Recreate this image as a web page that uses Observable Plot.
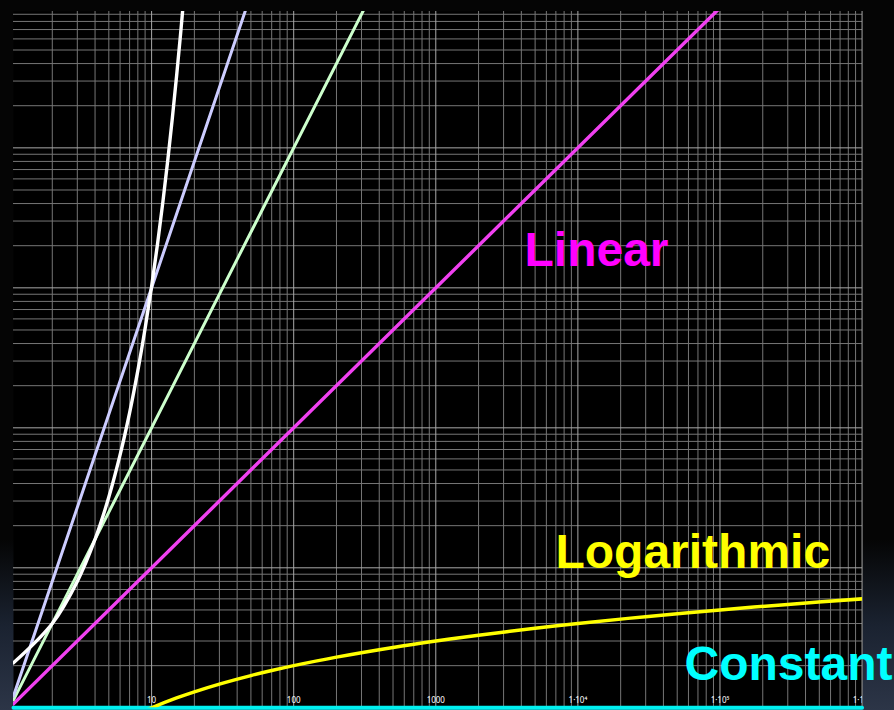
<!DOCTYPE html>
<html>
<head>
<meta charset="utf-8">
<script src="https://cdn.jsdelivr.net/npm/d3@7"></script>
<script src="https://cdn.jsdelivr.net/npm/@observablehq/plot@0.6"></script>
<style>
  html, body { margin: 0; padding: 0; }
  body {
    width: 894px; height: 710px; overflow: hidden;
    background: linear-gradient(to bottom, #050505 0%, #050505 76%, #1a2230 88%, #2c3547 100%);
    font-family: "Liberation Sans", Arial, sans-serif;
  }
  svg { display: block; background: transparent !important; }
</style>
</head>
<body>
<div id="chart"></div>
<script>
// ---- data ----
const constN = [1.067, 1000000];
const constV = [1, 1];

const logN = [9, 10, 15, 20, 30, 50, 70, 100, 200, 500, 1000, 2000, 5000, 10000, 30000, 100000, 300000, 1000000];
const logV = [0.954, 1, 1.176, 1.301, 1.477, 1.699, 1.845, 2, 2.301, 2.699, 3, 3.301, 3.699, 4, 4.477, 5, 5.477, 6];

const linN = [1.067, 100000];
const linV = [1.067, 100000];

const sqN = [1.067, 400];
const sqV = [1.138, 160000];

const cubeN = [1.067, 50];
const cubeV = [1.215, 125000];

const expN = [1.067, 2, 3, 4, 5, 6, 7, 8, 9, 10, 11, 12, 13, 14, 15, 16, 17];
const expV = [2.095, 4, 8, 16, 32, 64, 128, 256, 512, 1024, 2048, 4096, 8192, 16384, 32768, 65536, 131072];

const tickValues = [10, 100, 1000, 10000, 100000, 1000000];
const tickLabels = ["10", "100", "1000", "1·10⁴", "1·10⁵", "1·10⁶"];

const labelNames = ["Linear", "Logarithmic", "Constant"];
const labelN = [4210, 6950, 56300];
const labelV = [1443, 9.9, 1.59];
const labelColors = ["#ff00ff", "#ffff00", "#00ffff"];

// ---- grid positions ----
const decades = [1, 10, 100, 1000, 10000, 100000, 1000000];
const xMinor = [], yMinor = [];
for (const d of decades) for (let k = 2; k <= 9; k++) { xMinor.push(d * k); yMinor.push(d * k); }

const xDomain = [Math.pow(10, 0.0281), Math.pow(10, 6.003)];
const yDomain = [1, Math.pow(10, 4.974)];

const series = [
  {n: constN, v: constV, color: "#00f0f0", w: 4, clip: false},
  {n: logN, v: logV, color: "#ffff00", w: 3.5, clip: true},
  {n: linN, v: linV, color: "#f040f0", w: 3.4, clip: true},
  {n: sqN, v: sqV, color: "#ccffcc", w: 3, clip: true},
  {n: cubeN, v: cubeV, color: "#ccccff", w: 3, clip: true},
  {n: expN, v: expV, color: "#ffffff", w: 3.4, clip: true}
];

const chart = Plot.plot({
  width: 894,
  height: 710,
  marginLeft: 13,
  marginRight: 32,
  marginTop: 11,
  marginBottom: 2.7,
  style: {background: "transparent", overflow: "visible"},
  x: {type: "log", domain: xDomain, axis: null},
  y: {type: "log", domain: yDomain, axis: null},
  marks: [
    Plot.frame({fill: "#000000", stroke: null}),
    Plot.ruleX(xMinor.filter(v => v > xDomain[0] && v < xDomain[1]), {stroke: "#767676", strokeWidth: 1}),
    Plot.ruleY(yMinor.filter(v => v > yDomain[0] && v < yDomain[1]), {stroke: "#767676", strokeWidth: 1}),
    Plot.ruleX(decades.filter(v => v > xDomain[0] && v <= xDomain[1]), {stroke: "#a8a8a8", strokeWidth: 1}),
    Plot.ruleY(decades.filter(v => v > yDomain[0] && v < yDomain[1]), {stroke: "#a8a8a8", strokeWidth: 1}),
    Plot.text(tickValues, {
      x: d => d, text: (d, i) => tickLabels[i], frameAnchor: "bottom", dy: -4.5,
      lineAnchor: "bottom", fill: "#ffffff", fontSize: 8, clip: true
    }),
    ...series.map(s => Plot.line(d3.zip(s.n, s.v), {
      x: d => d[0], y: d => d[1], stroke: s.color, strokeWidth: s.w,
      curve: "catmull-rom", clip: s.clip
    })),
    Plot.text(d3.zip(labelNames, labelN, labelV, labelColors), {
      x: d => d[1], y: d => d[2], text: d => d[0], fill: d => d[3],
      textAnchor: "start", lineAnchor: "bottom", fontSize: 48, fontWeight: "bold",
      fontFamily: "Liberation Sans, Arial, sans-serif"
    })
  ]
});
document.getElementById("chart").appendChild(chart);
</script>
</body>
</html>
